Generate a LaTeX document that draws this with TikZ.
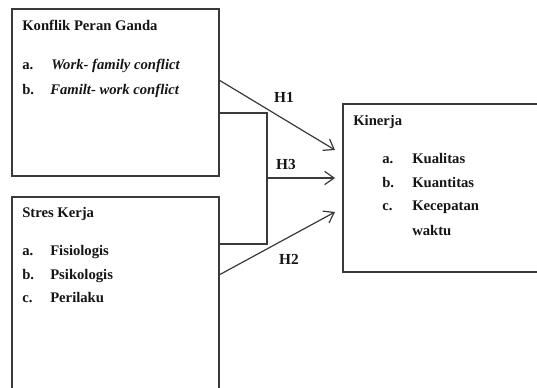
\documentclass[tikz,border=0pt]{standalone}
\usepackage{fontspec}
\setmainfont{Liberation Serif}
\usetikzlibrary{arrows.meta}
\definecolor{ln}{HTML}{3A3A3A}
\definecolor{tx}{HTML}{151515}
\tikzset{
  box/.style={draw=ln, line width=1.2pt, fill=white, inner sep=0pt},
  txt/.style={anchor=base west, inner sep=0pt, text=tx, font=\fontsize{11}{13}\selectfont\bfseries},
  itxt/.style={txt, font=\fontsize{11}{13}\selectfont\bfseries\itshape},
  conn/.style={draw=ln, line width=0.9pt},
  arr/.style={conn, -{Straight Barb[length=7pt,width=10pt,line width=0.9pt]}},
  hlab/.style={inner sep=0pt, text=tx, font=\fontsize{11.5}{13}\selectfont\bfseries}
}
\begin{document}
\begin{tikzpicture}[x=0.75pt,y=-0.75pt]
\useasboundingbox (0,0) rectangle (537,387);
\clip (0,0) rectangle (537,387);
\fill[white] (0,0) rectangle (537,387);
% boxes
\node[box, minimum width=207*0.75pt, minimum height=167*0.75pt] (b1) at (115.5,92.5) {};
\node[box, minimum width=207*0.75pt, minimum height=213*0.75pt] (b2) at (115.5,303.5) {};
\node[box, minimum width=210*0.75pt, minimum height=168*0.75pt] (k) at (448,188) {};
% box 1 text
\node[txt] (t1) at (22,30) {Konflik Peran Ganda};
\node[txt] (t1a) at (22,69) {a.};
\node[itxt] (t1aa) at (51,69) {Work- family conflict};
\node[txt] (t1b) at (22,94) {b.};
\node[itxt] (t1bb) at (50,94) {Familt- work conflict};
% box 2 text
\node[txt] (t2) at (22,217) {Stres Kerja};
\node[txt] (t2a) at (22,255) {a.};
\node[txt] (t2aa) at (50,255) {Fisiologis};
\node[txt] (t2b) at (22,279) {b.};
\node[txt] (t2bb) at (50,279) {Psikologis};
\node[txt] (t2c) at (22,302) {c.};
\node[txt] (t2cc) at (50,302) {Perilaku};
% kinerja text
\node[txt] (t3) at (353,125) {Kinerja};
\node[txt] (t3a) at (382,163) {a.};
\node[txt] (t3aa) at (412,163) {Kualitas};
\node[txt] (t3b) at (382,187) {b.};
\node[txt] (t3bb) at (412,187) {Kuantitas};
\node[txt] (t3c) at (382,210) {c.};
\node[txt] (t3cc) at (412,210) {Kecepatan};
\node[txt] (t3dd) at (412,235) {waktu};
% connector points
\coordinate (s1) at (219,80);
\coordinate (e1) at (335,150);
\coordinate (s2) at (219,275);
\coordinate (e2) at (335,212);
\coordinate (u) at (219,113);
\coordinate (ur) at (267,113);
\coordinate (lr) at (267,244);
\coordinate (l) at (219,244);
\coordinate (m) at (267,178);
\coordinate (e3) at (335,178);
\draw[arr] (s1) -- (e1);
\draw[arr] (s2) -- (e2);
\draw[conn] (u) -- (ur) -- (lr) -- (l);
\draw[arr] (m) -- (e3);
% labels
\node[hlab] (h1) at (284,97) {H1};
\node[hlab] (h3) at (286,164) {H3};
\node[hlab] (h2) at (289,259) {H2};
\end{tikzpicture}
\end{document}
